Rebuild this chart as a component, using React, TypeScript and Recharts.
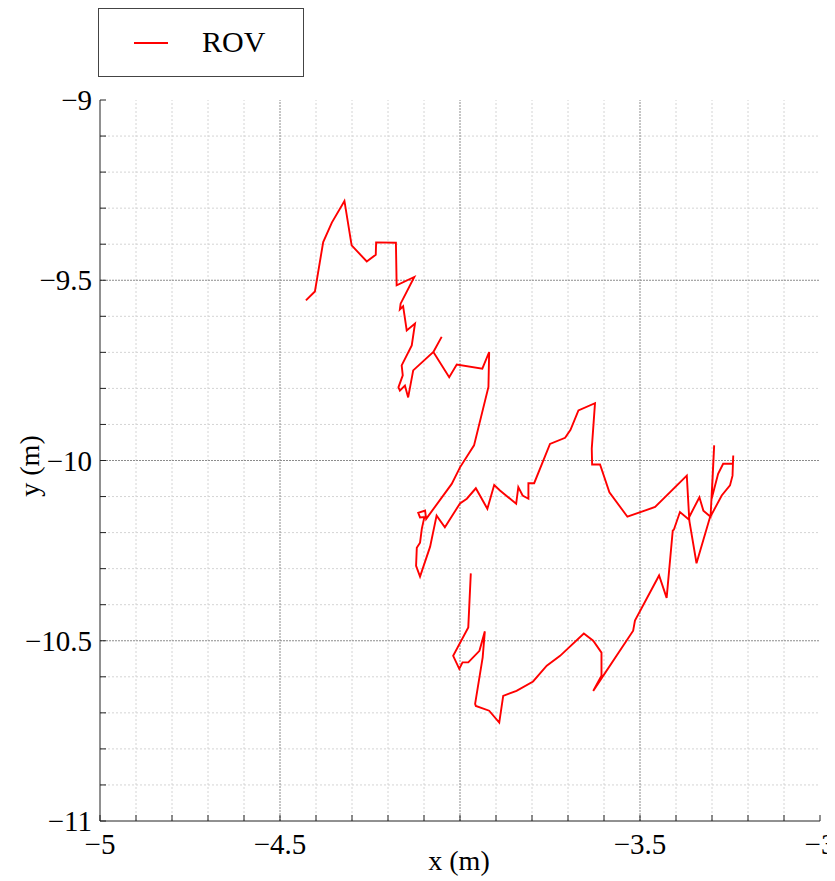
import React from 'react';
import {LineChart, Line, XAxis, YAxis, ReferenceLine} from 'recharts';

// ROV track (metres)
const trackX = [
  -4.428, -4.403, -4.380, -4.356, -4.321, -4.301, -4.259, -4.234, -4.233, -4.178,
  -4.176, -4.127, -4.165, -4.167, -4.158, -4.148, -4.125, -4.134, -4.162, -4.159,
  -4.171, -4.167, -4.153, -4.144, -4.130, -4.074, -4.051, -4.074, -4.030, -4.009,
  -3.938, -3.919, -3.921, -3.961, -4.000, -4.023, -4.094, -4.097, -4.116, -4.111,
  -4.099, -4.106, -4.111, -4.120, -4.122, -4.111, -4.083, -4.065, -4.042, -4.000,
  -3.981, -3.956, -3.924, -3.905, -3.889, -3.844, -3.838, -3.826, -3.810, -3.810,
  -3.794, -3.750, -3.708, -3.693, -3.671, -3.625, -3.634, -3.633, -3.611, -3.585,
  -3.535, -3.458, -3.370, -3.363, -3.343, -3.306, -3.273, -3.250, -3.243, -3.241,
  -3.242, -3.269, -3.283, -3.301, -3.294, -3.304, -3.324, -3.335, -3.366, -3.389,
  -3.406, -3.409, -3.426, -3.447, -3.514, -3.519, -3.630, -3.607, -3.607, -3.630,
  -3.656, -3.722, -3.759, -3.797, -3.843, -3.880, -3.891, -3.919, -3.956, -3.958,
  -3.937, -3.931, -3.946, -3.977, -3.993, -4.002, -4.019, -3.977, -3.970,
];
const trackY = [
  -9.556, -9.531, -9.394, -9.340, -9.280, -9.403, -9.448, -9.429, -9.395, -9.396,
  -9.514, -9.491, -9.565, -9.581, -9.572, -9.639, -9.620, -9.681, -9.736, -9.764,
  -9.797, -9.806, -9.792, -9.825, -9.750, -9.699, -9.657, -9.699, -9.769, -9.734,
  -9.745, -9.699, -9.796, -9.958, -10.019, -10.065, -10.162, -10.139, -10.145, -10.158,
  -10.157, -10.189, -10.228, -10.242, -10.292, -10.322, -10.239, -10.153, -10.185, -10.119,
  -10.106, -10.077, -10.134, -10.068, -10.083, -10.120, -10.074, -10.097, -10.106, -10.063,
  -10.063, -9.954, -9.937, -9.915, -9.861, -9.841, -9.967, -10.011, -10.011, -10.088,
  -10.156, -10.129, -10.042, -10.167, -10.285, -10.159, -10.097, -10.069, -10.042, -9.986,
  -10.009, -10.009, -10.037, -10.106, -9.958, -10.156, -10.139, -10.102, -10.162, -10.143,
  -10.192, -10.194, -10.381, -10.319, -10.444, -10.472, -10.639, -10.597, -10.533, -10.500,
  -10.480, -10.542, -10.569, -10.613, -10.639, -10.653, -10.727, -10.694, -10.681, -10.675,
  -10.546, -10.474, -10.528, -10.560, -10.560, -10.578, -10.542, -10.463, -10.313,
];

const xTicks = [-5, -4.9, -4.8, -4.7, -4.6, -4.5, -4.4, -4.3, -4.2, -4.1, -4, -3.9, -3.8, -3.7, -3.6, -3.5, -3.4, -3.3, -3.2, -3.1, -3];
const yTicks = [-11, -10.9, -10.8, -10.7, -10.6, -10.5, -10.4, -10.3, -10.2, -10.1, -10, -9.9, -9.8, -9.7, -9.6, -9.5, -9.4, -9.3, -9.2, -9.1, -9];
const xLabels = [-5, -4.5, -3.5, -3];
const yLabels = [-11, -10.5, -10, -9.5, -9];
const xMajorGrid = [-4.5, -4, -3.5];
const yMajorGrid = [-10.5, -10, -9.5];

const data = trackX.map((x, i) => ({x, y: trackY[i]}));

const FONT = '"Liberation Serif", "Times New Roman", serif';
const AXIS = '#222';
const labelStyle = {fontFamily: FONT, fontSize: 29, fill: '#000'};
const has = (list: number[], v: number) => list.some(u => Math.abs(u - v) < 1e-6);
const fmt = (v: number) => String(v).replace('-', '\u2212');

const xMinorGrid = xTicks.filter(v => !has(xMajorGrid, v) && !has([-5, -3], v));
const yMinorGrid = yTicks.filter(v => !has(yMajorGrid, v) && !has([-11, -9], v));

const BottomTick = (props: any) => {
  const {x, y, payload} = props;
  return (
    <g>
      <line x1={x} x2={x} y1={y} y2={y - 6} stroke={AXIS}/>
      {has(xLabels, payload.value) && (
        <text x={x} y={y + 33} textAnchor="middle" style={labelStyle}>
          {fmt(payload.value)}
        </text>
      )}
    </g>
  );
};

const TopTick = (props: any) => {
  const {x, y} = props;
  return <line x1={x} x2={x} y1={y} y2={y + 6} stroke={AXIS}/>;
};

const LeftTick = (props: any) => {
  const {x, y, payload} = props;
  return (
    <g>
      <line x1={x} x2={x + 6} y1={y} y2={y} stroke={AXIS}/>
      {has(yLabels, payload.value) && (
        <text x={x - 8} y={y + 10} textAnchor="end" style={labelStyle}>
          {fmt(payload.value)}
        </text>
      )}
    </g>
  );
};

const RightTick = (props: any) => {
  const {x, y} = props;
  return <line x1={x} x2={x - 6} y1={y} y2={y} stroke={AXIS}/>;
};

export default function App() {
  return (
    <div style={{position: 'relative', width: 827, height: 873}}>
      <LineChart width={845} height={873} data={data} margin={{top: 92, right: 33, left: 0, bottom: 0}}>
        <XAxis dataKey="x" type="number" domain={[-5, -3]} ticks={xTicks} interval={0}
               height={60} tickSize={0} tickMargin={0} tickLine={false} tick={<BottomTick/>}
               axisLine={{stroke: AXIS}} allowDataOverflow/>
        <XAxis xAxisId="top" orientation="top" type="number" domain={[-5, -3]} ticks={xTicks} interval={0}
               height={0} tickSize={0} tickMargin={0} tickLine={false} tick={<TopTick/>}
               axisLine={{stroke: AXIS}} allowDataOverflow/>
        <YAxis type="number" domain={[-11, -9]} ticks={yTicks} interval={0}
               width={92} tickSize={0} tickMargin={0} tickLine={false} tick={<LeftTick/>}
               axisLine={{stroke: AXIS}} allowDataOverflow/>
        <YAxis yAxisId="right" orientation="right" type="number" domain={[-11, -9]} ticks={yTicks} interval={0}
               width={0} tickSize={0} tickMargin={0} tickLine={false} tick={<RightTick/>}
               axisLine={{stroke: AXIS}} allowDataOverflow/>
        {xMinorGrid.map(v => (
          <ReferenceLine key={'xm' + v} x={v} stroke="#d4d4d4" strokeDasharray="2 2"/>
        ))}
        {yMinorGrid.map(v => (
          <ReferenceLine key={'ym' + v} y={v} stroke="#d4d4d4" strokeDasharray="2 2"/>
        ))}
        {xMajorGrid.map(v => (
          <ReferenceLine key={'xM' + v} x={v} stroke="#8c8c8c" strokeDasharray="2 1"/>
        ))}
        {yMajorGrid.map(v => (
          <ReferenceLine key={'yM' + v} y={v} stroke="#8c8c8c" strokeDasharray="2 1"/>
        ))}
        <Line dataKey="y" stroke="#ff0000" strokeWidth={1.9} dot={false} isAnimationActive={false}/>
      </LineChart>
      <div style={{position: 'absolute', left: 459 - 8, top: 845 - 8, transform: 'translateX(-50%)',
        fontFamily: FONT, fontSize: 28, lineHeight: '32px', whiteSpace: 'nowrap'}}>x (m)</div>
      <div style={{position: 'absolute', left: 30 - 8, top: 466 - 8, transform: 'translate(-50%, -50%) rotate(-90deg)',
        fontFamily: FONT, fontSize: 28, lineHeight: '32px', whiteSpace: 'nowrap'}}>y (m)</div>
      <div style={{position: 'absolute', left: 90, top: 0, width: 204, height: 67, border: '1px solid #444',
        background: '#fff', boxSizing: 'content-box'}}>
        <div style={{position: 'absolute', left: 35, top: 33, width: 34, height: 2, background: '#ff0000'}}/>
        <div style={{position: 'absolute', left: 103, top: 15, fontFamily: FONT, fontSize: 30, lineHeight: '36px'}}>ROV</div>
      </div>
    </div>
  );
}
